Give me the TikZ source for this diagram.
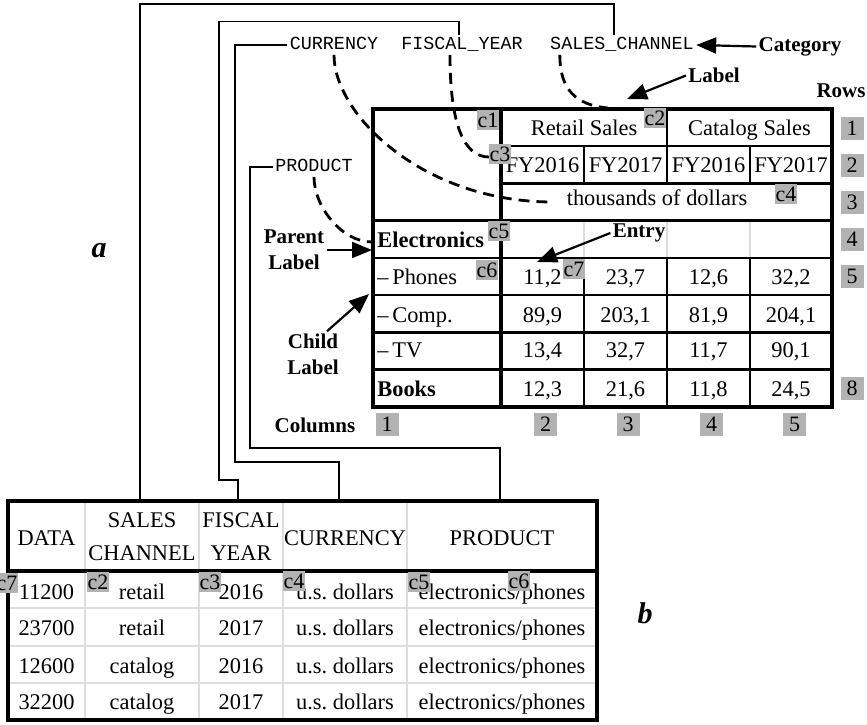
\documentclass[tikz,border=0pt]{standalone}
\usepackage{fontspec}
\setmainfont{Liberation Serif}
\setmonofont{Liberation Mono}
\usepackage{xcolor}
\definecolor{taggray}{RGB}{178,178,178}
\definecolor{gridgray}{RGB}{222,222,222}
\usetikzlibrary{calc,positioning,arrows.meta}

\begin{document}
\begin{tikzpicture}[x=0.5pt,y=-0.5pt,
    cell/.style={font=\fontsize{11.2}{13}\selectfont,inner sep=0pt,text height=8pt,text depth=2.3pt},
    bhead/.style={font=\fontsize{11.2}{16.5}\selectfont,inner sep=0pt,align=center},
    tag/.style={fill=taggray,inner sep=0pt,minimum width=11pt,minimum height=10pt,font=\fontsize{11}{12}\selectfont},
    numtag/.style={tag,minimum width=11.5pt,minimum height=11.5pt},
    category/.style={font=\ttfamily\fontsize{9.2}{11}\selectfont,inner sep=1pt,text height=6pt,text depth=1.5pt},
    callout/.style={font=\bfseries\fontsize{10.5}{13}\selectfont,align=center,inner sep=1pt},
    panel/.style={font=\bfseries\itshape\fontsize{15}{18}\selectfont,inner sep=0pt,anchor=base},
    inner/.style={line width=1.1pt},
    outer/.style={line width=1.6pt},
    faint/.style={line width=1pt,gridgray},
    link/.style={line width=0.65pt},
    curve/.style={line width=1.4pt,dash pattern=on 5.5pt off 3.5pt},
    pointer/.style={line width=1.1pt,-{Triangle[length=10pt,width=8pt]}}]
    \useasboundingbox (0,0) rectangle (867,724);
    % Parameters: columns and rows of the report
    \def\cola{373} \def\colb{501} \def\colc{584} \def\cold{667} \def\cole{750} \def\colf{832}
    \def\rowa{109} \def\rowb{146} \def\rowc{183.5} \def\rowd{220.5} \def\rowe{258}
    \def\rowi{407}
    % Parameters: data table
    \def\tba{8} \def\tbb{85} \def\tbc{199} \def\tbd{283} \def\tbe{407} \def\tbf{597}
    \def\tra{501} \def\trb{571} \def\tre{720}

    % Report grid
    \draw[inner] (\colb,\rowb) -- (\colf,\rowb);
    \draw[inner] (\colb,\rowc) -- (\colf,\rowc);
    \draw[inner] (\cold,\rowa) -- (\cold,\rowc);
    \draw[inner] (\colc,\rowb) -- (\colc,\rowc);
    \draw[inner] (\cole,\rowb) -- (\cole,\rowc);
    \foreach \x in {\colc,\cold,\cole} \draw[faint] (\x,\rowd) -- (\x,\rowe);
    \foreach \y in {258,295,332.5,369.5} \draw[inner] (\cola,\y) -- (\colf,\y);
    \foreach \x in {\colc,\cold,\cole} \draw[inner] (\x,\rowe) -- (\x,\rowi);
    \draw[outer] (\colb,\rowa) -- (\colb,\rowi);
    \draw[outer] (\cola,\rowd) -- (\colf,\rowd);
    \draw[outer] (\cola,\rowa) rectangle (\colf,\rowi);

    % Report labels
    \node[cell] (retail) at (584,130) {Retail Sales};
    \node[cell] (catalog) at (749.5,130) {Catalog Sales};
    \node[cell] (fy1) at (542.5,166.5) {FY2016};
    \node[cell] (fy2) at (625.5,166.5) {FY2017};
    \node[cell] (fy3) at (708.5,166.5) {FY2016};
    \node[cell] (fy4) at (791,166.5) {FY2017};
    \node[cell] (units) at (657,200) {thousands of dollars};
    \node[cell,anchor=west,font=\bfseries\fontsize{11.2}{13}\selectfont] (electronics) at (377,242) {Electronics};
    \node[cell,anchor=west] (phones) at (377,278.5) {\textendash\,Phones};
    \node[cell,anchor=west] (comp) at (377,316.5) {\textendash\,Comp.};
    \node[cell,anchor=west] (tv) at (377,352) {\textendash\,TV};
    \node[cell,anchor=west,font=\bfseries\fontsize{11.2}{13}\selectfont] (books) at (377,391) {Books};

    % Report entries
    \foreach \y/\va/\vb/\vc/\vd [count=\i] in {278.5/{11,2}/{23,7}/{12,6}/{32,2},
        316.5/{89,9}/{203,1}/{81,9}/{204,1}, 352/{13,4}/{32,7}/{11,7}/{90,1},
        391/{12,3}/{21,6}/{11,8}/{24,5}}{
      \node[cell] (v\i a) at (542.5,\y) {\va};
      \node[cell] (v\i b) at (625.5,\y) {\vb};
      \node[cell] (v\i c) at (708.5,\y) {\vc};
      \node[cell] (v\i d) at (791,\y) {\vd};
    }

    % Data table grid
    \foreach \x in {\tbb,\tbc,\tbd,\tbe} \draw[faint] (\x,\tra) -- (\x,\tre);
    \foreach \y in {608,646,683} \draw[faint] (\tba,\y) -- (\tbf,\y);
    \draw[outer] (\tba,\trb) -- (\tbf,\trb);
    \draw[outer] (\tba,\tra) rectangle (\tbf,\tre);

    % Data table header
    \node[cell] (hdata) at (46.5,540) {DATA};
    \node[bhead] (hchannel) at (142,537) {SALES\\CHANNEL};
    \node[bhead] (hyear) at (241,537) {FISCAL\\YEAR};
    \node[cell] (hcurrency) at (345,540) {CURRENCY};
    \node[cell] (hproduct) at (502,540) {PRODUCT};

    % Data table rows
    \foreach \y/\d/\ch/\yr [count=\i] in {594/11200/retail/2016, 630/23700/retail/2017,
        667.5/12600/catalog/2016, 704/32200/catalog/2017}{
      \node[cell] (data\i) at (46.5,\y) {\d};
      \node[cell] (chan\i) at (142,\y) {\ch};
      \node[cell] (year\i) at (241,\y) {\yr};
      \node[cell] (money\i) at (345,\y) {u.s.\ dollars};
      \node[cell] (item\i) at (502,\y) {electronics/phones};
    }

    % Categories
    \node[category] (currency) at (334,45) {CURRENCY};
    \node[category] (year) at (462,45) {FISCAL\_YEAR};
    \node[category] (channel) at (622,45) {SALES\_CHANNEL};
    \node[category] (product) at (314,167) {PRODUCT};

    % Column tops of the data table
    \coordinate (channel top) at (140,\tra);
    \coordinate (year top) at (238,\tra);
    \coordinate (currency top) at (339,\tra);
    \coordinate (product top) at (500,\tra);

    % Links to the data table
    \draw[link] ([xshift=-4pt]channel.north) -- ++(0,-31) -| (channel top);
    \draw[link] ([xshift=-1.5pt]year.north) -- ++(0,-13.5) -| (219,480) -| (year top);
    \draw[link] (currency.west) -| (235,462) -| (currency top);
    \draw[link] (product.west) -| (250,448) -| (product top);

    % Dashed mappings to the report
    \coordinate (channel end) at (608,108);
    \coordinate (year end) at (489,157);
    \coordinate (currency end) at (553,202);
    \coordinate (product end) at (372,242);
    \draw[curve] ([xshift=6pt]channel.south west) .. controls +(0,35) and +(-32,-3) .. (channel end);
    \draw[curve] ([xshift=-6pt]year.south) .. controls +(0,70) and +(-25,0) .. (year end);
    \draw[curve] (currency.south) .. controls +(0,60) and +(-130,0) .. (currency end);
    \draw[curve] (product.south) .. controls +(0,30) and +(-30,0) .. (product end);

    % Callouts
    \node[callout] (categorylab) at (800,46.5) {Category};
    \node[callout] (labellab) at (714,75.5) {Label};
    \node[callout] (rows) at (841,91) {Rows};
    \node[callout] (entry) at (639,233) {Entry};
    \node[callout] (parent) at (294,250) {Parent\\Label};
    \node[callout] (child) at (313,354) {Child\\Label};
    \node[callout] (columns) at (315,425) {Columns};
    \coordinate (label tip) at (627,99);
    \coordinate (entry tip) at (537,262);
    \coordinate (parent tip) at (372,250);
    \coordinate (child tip) at (369,294);
    \draw[pointer] (categorylab.west) -- (channel.east);
    \draw[pointer] (labellab.west) -- (label tip);
    \draw[pointer] (entry.west) -- (entry tip);
    \draw[pointer] (parent.east) -- (parent tip);
    \draw[pointer] ([xshift=7pt]child.north) -- (child tip);

    % Cell tags in the report
    \node[tag] (ta1) at (488,120) {c1};
    \node[tag] (ta2) at (655,118) {c2};
    \node[tag] (ta3) at (500,154) {c3};
    \node[tag] (ta4) at (786,194) {c4};
    \node[tag] (ta5) at (499,231) {c5};
    \node[tag] (ta6) at (487,270) {c6};
    \node[tag] (ta7) at (574,269) {c7};

    % Row and column numbers
    \foreach \n/\y in {1/128,2/165,3/202,4/239.5,5/276.5,8/388.5}
      \node[numtag] (row\n) at (852,\y) {\n};
    \foreach \n/\x in {1/387,2/545.5,3/628,4/711.5,5/794.5}
      \node[numtag] (col\n) at (\x,424.5) {\n};

    % Cell tags in the data table
    \node[tag] (tb7) at (7,583) {c7};
    \node[tag] (tb2) at (98,582) {c2};
    \node[tag] (tb3) at (210,582) {c3};
    \node[tag] (tb4) at (294,581) {c4};
    \node[tag] (tb5) at (419,582) {c5};
    \node[tag] (tb6) at (519,581) {c6};

    % Panel letters
    \node[panel] (panela) at (99,257) {a};
    \node[panel] (panelb) at (645,623) {b};
\end{tikzpicture}
\end{document}
